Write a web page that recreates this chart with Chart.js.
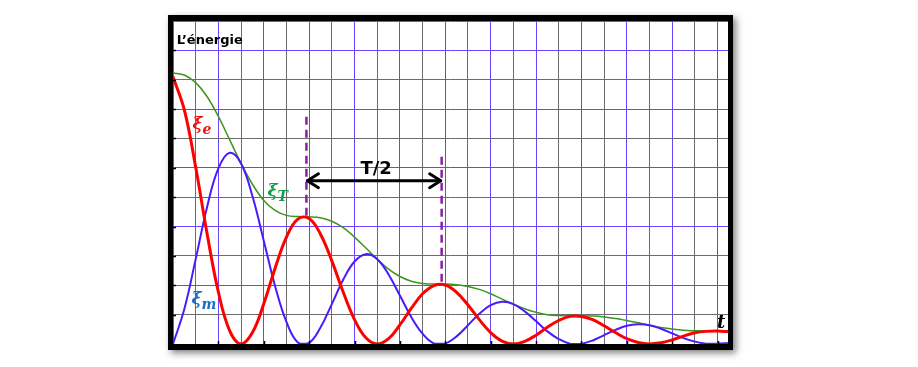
<!DOCTYPE html>
<html>
<head>
<meta charset="utf-8">
<script src="https://cdn.jsdelivr.net/npm/chart.js@4/dist/chart.umd.min.js"></script>
<style>
html,body{margin:0;padding:0;background:#fff;}
#c{display:block;}
</style>
</head>
<body>
<canvas id="c" width="918" height="367"></canvas>
<script>
// ---- data (x in grid units, y in grid units) ----
const timeT = [0,0.5,1,1.5,2,2.5,3,3.5,4,4.5,5,5.5,6,6.5,7,7.5,8,8.5,9,9.5,10,10.5,11,11.5,12,12.5,13,13.5,14,14.5,15,15.5,16,16.5,17,17.5,18,18.5,19,19.5,20,20.5,21,21.5,22,22.5,23,23.5,24,24.5];
const energyE = [9.10,7.97,6.02,3.77,1.77,0.45,0,0.39,1.37,2.58,3.64,4.25,4.27,3.74,2.83,1.77,0.83,0.21,0,0.18,0.65,1.21,1.71,1.99,2.01,1.76,1.33,0.83,0.39,0.10,0,0.09,0.30,0.57,0.80,0.94,0.94,0.83,0.62,0.39,0.18,0.05,0,0.04,0.14,0.27,0.38,0.43,0.44,0.42];
const energyM = [0,1.19,2.89,4.66,5.98,6.51,6.15,5.04,3.52,1.97,0.75,0.05,0.04,0.56,1.36,2.19,2.81,3.06,2.89,2.37,1.65,0.92,0.35,0.02,0.02,0.26,0.64,1.03,1.32,1.44,1.36,1.11,0.78,0.43,0.17,0.01,0.01,0.12,0.30,0.48,0.62,0.67,0.64,0.52,0.36,0.20,0.08,0.01,0.01,0.04];
const energyT = [9.23,9.16,8.90,8.43,7.75,6.95,6.15,5.44,4.89,4.55,4.38,4.34,4.33,4.30,4.18,3.96,3.64,3.27,2.89,2.55,2.30,2.14,2.06,2.04,2.04,2.02,1.96,1.86,1.71,1.53,1.36,1.20,1.08,1.00,0.97,0.96,0.96,0.95,0.92,0.87,0.80,0.72,0.64,0.56,0.51,0.47,0.45,0.45,0.45,0.44];

const xMax = 24.46;
const yMax = 11;

// half-period markers
const markX = [5.88, 11.84];
const markTop = [7.74, 6.38];
const markBottom = [4.30, 2.02];
const arrowY = 5.56;

// plain text notes
const noteTexts = ['L\u2019énergie', 'T/2', 't'];
const noteX = [0.16, 8.955, 23.98];
const noteY = [10.21, 5.79, 0.53];

// energy symbols ξ with subscripts
const symSubs = ['e', 'T', 'm'];
const symX = [0.856, 4.165, 0.81];
const symY = [7.31, 5.04, 1.35];
const symColors = ['#ee1111', '#12a050', '#1a6ec8'];

const BLUE_GRID = 'rgb(108,68,255)';
const GRAY_GRID = 'rgb(108,108,108)';

function pts(xs, ys){ return xs.map((x,i)=>({x:x, y:ys[i]})); }

const framePlugin = {
  id: 'frameDeco',
  beforeDraw(chart){
    const {ctx, chartArea:a} = chart;
    ctx.save();
    ctx.shadowColor = 'rgba(0,0,0,0.5)';
    ctx.shadowBlur = 7;
    ctx.shadowOffsetX = 3;
    ctx.shadowOffsetY = 3;
    ctx.fillStyle = '#000';
    ctx.fillRect(a.left-5, a.top-6, a.width+10, a.height+12);
    ctx.restore();
    ctx.save();
    ctx.fillStyle = '#fff';
    ctx.fillRect(a.left, a.top, a.width, a.height);
    ctx.restore();
  },
  afterDatasetsDraw(chart){
    const {ctx, chartArea:a, scales} = chart;
    ctx.save();
    ctx.fillStyle = '#000';
    ctx.fillRect(a.left-5, a.top-6, a.width+10, 6);
    ctx.fillRect(a.left-5, a.bottom, a.width+10, 6);
    ctx.fillRect(a.left-5, a.top-6, 5, a.height+12);
    ctx.fillRect(a.right, a.top-6, 5, a.height+12);
    // small tick marks on the axes
    ctx.strokeStyle = '#000';
    ctx.lineWidth = 1.5;
    for (let v = 1; v < yMax; v++) {
      const py = Math.round(scales.y.getPixelForValue(v)) + 0.5;
      ctx.beginPath(); ctx.moveTo(a.left, py); ctx.lineTo(a.left+3, py); ctx.stroke();
    }
    for (let v = 2; v <= 24; v += 2) {
      const px = Math.round(scales.x.getPixelForValue(v)) + 0.5;
      ctx.beginPath(); ctx.moveTo(px, a.bottom); ctx.lineTo(px, a.bottom-3); ctx.stroke();
    }
    ctx.restore();
  },
  afterDraw(chart){
    const {ctx, scales} = chart;
    const X = v => scales.x.getPixelForValue(v);
    const Y = v => scales.y.getPixelForValue(v);
    ctx.save();
    // arrow T/2
    const x1 = X(markX[0]), x2 = X(markX[1]), ya = Y(arrowY);
    ctx.strokeStyle = '#000';
    ctx.lineWidth = 3;
    ctx.lineCap = 'round';
    ctx.lineJoin = 'round';
    ctx.beginPath(); ctx.moveTo(x1+1, ya); ctx.lineTo(x2-1, ya); ctx.stroke();
    ctx.beginPath();
    ctx.moveTo(x1+12, ya-7); ctx.lineTo(x1+1, ya); ctx.lineTo(x1+12, ya+7);
    ctx.moveTo(x2-12, ya-7); ctx.lineTo(x2-1, ya); ctx.lineTo(x2-12, ya+7);
    ctx.stroke();
    // notes
    ctx.fillStyle = '#000';
    ctx.textBaseline = 'alphabetic';
    ctx.font = 'bold 13px "DejaVu Sans"';
    ctx.textAlign = 'left';
    ctx.fillText(noteTexts[0], X(noteX[0]), Y(noteY[0]));
    ctx.font = 'bold 18px "DejaVu Sans"';
    ctx.textAlign = 'center';
    ctx.fillText(noteTexts[1], X(noteX[1]), Y(noteY[1]));
    ctx.font = 'bold italic 18px "DejaVu Serif"';
    ctx.textAlign = 'left';
    ctx.fillText(noteTexts[2], X(noteX[2]), Y(noteY[2]));
    // symbols
    for (let i = 0; i < symSubs.length; i++) {
      ctx.fillStyle = symColors[i];
      ctx.font = 'bold italic 17px "DejaVu Serif"';
      const px = X(symX[i]), py = Y(symY[i]);
      ctx.fillText('\u03BE', px, py);
      const w = ctx.measureText('\u03BE').width;
      ctx.font = 'bold italic 14px "DejaVu Serif"';
      ctx.fillText(symSubs[i], px + w, py + 5);
    }
    ctx.restore();
  }
};

new Chart(document.getElementById('c'), {
  type: 'line',
  data: {
    datasets: [
      { label: 'Ee', data: pts(timeT, energyE), borderColor: '#ff0000', borderWidth: 3, tension: 0.4 },
      { label: 'Em', data: pts(timeT, energyM), borderColor: 'rgb(75,25,255)', borderWidth: 2, tension: 0.4 },
      { label: 'ET', data: pts(timeT, energyT), borderColor: 'rgb(60,150,30)', borderWidth: 1.5, cubicInterpolationMode: 'monotone' },
      { label: 'm1', data: [{x:markX[0], y:markTop[0]}, {x:markX[0], y:markBottom[0]}], borderColor: 'rgb(140,30,170)', borderWidth: 2.5, borderDash: [8,5], tension: 0 },
      { label: 'm2', data: [{x:markX[1], y:markTop[1]}, {x:markX[1], y:markBottom[1]}], borderColor: 'rgb(140,30,170)', borderWidth: 2.5, borderDash: [8,5], tension: 0 }
    ]
  },
  options: {
    responsive: false,
    animation: false,
    devicePixelRatio: 1,
    events: [],
    elements: { point: { radius: 0 } },
    layout: { padding: { left: 173, right: 190, top: 21, bottom: 23 } },
    plugins: { legend: { display: false }, tooltip: { enabled: false }, title: { display: false } },
    scales: {
      x: {
        type: 'linear', min: 0, max: xMax,
        ticks: { display: false, stepSize: 1, includeBounds: false },
        grid: { drawTicks: false, lineWidth: 1, color: c => (c.tick.value % 2 === 0 ? BLUE_GRID : GRAY_GRID) },
        border: { display: false }
      },
      y: {
        type: 'linear', min: 0, max: yMax,
        ticks: { display: false, stepSize: 1 },
        grid: { drawTicks: false, lineWidth: 1, color: c => (c.tick.value % 2 === 0 ? BLUE_GRID : GRAY_GRID) },
        border: { display: false }
      }
    }
  },
  plugins: [framePlugin]
});
</script>
</body>
</html>
